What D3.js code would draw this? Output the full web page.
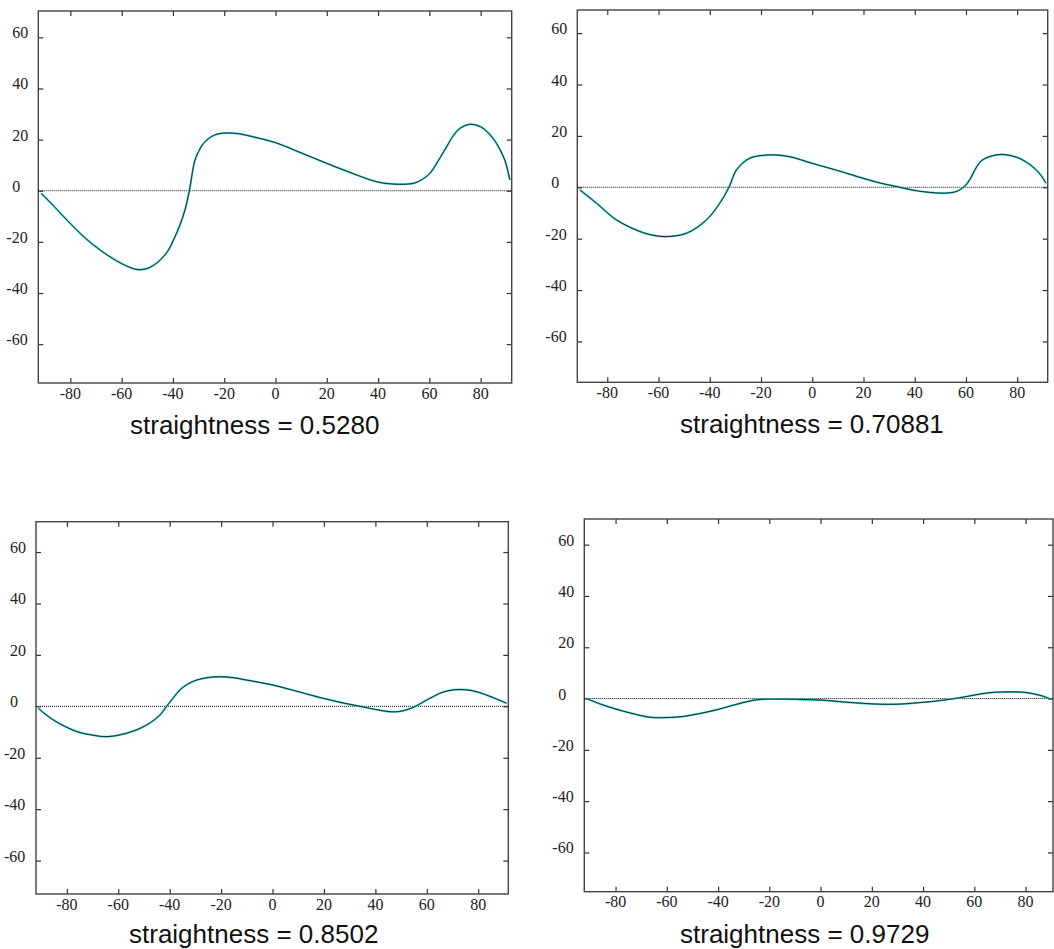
<!DOCTYPE html>
<html><head><meta charset="utf-8">
<script src="https://cdn.jsdelivr.net/npm/d3@7"></script>
<style>body{margin:0;background:#fff}svg{display:block}</style>
</head><body>
<svg id="c" width="1054" height="949"></svg>
<script>
const xTicks = [-80,-60,-40,-20,0,20,40,60,80];
const yTicks = [-60,-40,-20,0,20,40,60];
const captions = ["straightness = 0.5280","straightness = 0.70881","straightness = 0.8502","straightness = 0.9729"];

const x1 = [-91.4,-86,-81.3,-75,-68.4,-60,-54,-50,-47,-45,-42,-39.8,-37.5,-35.3,-33.6,-31.4,-29.5,-28.1,-25,-21.6,-15.1,-8,0,10,20,30,39.5,46,53.8,57,60.2,63.5,66.7,69.5,71.9,75.8,79,81,84,86.2,89.4,91.4];
const y1 = [-1,-6.5,-11.5,-17.8,-23.2,-28.5,-30.8,-30.4,-28.8,-27.1,-23.6,-19.3,-14,-7.5,0,12,16.3,18.5,21.2,22.4,22.4,20.9,18.8,14.8,10.7,6.8,3.5,2.6,2.9,4.3,6.8,11.8,17.2,21.8,24.4,26,25.4,24.4,21.5,18.5,12,4.2];

const x2 = [-90.7,-84.2,-76.4,-67.3,-62,-56.9,-49.1,-41.3,-36.1,-32.5,-29.6,-24.4,-16.6,-8.8,0,10,19.8,26,32.7,40.5,46,50.9,56.1,59.4,61.5,63.9,66,69.1,74.3,80.8,86,89,91.2];
const y2 = [-1,-6.2,-12.7,-17.2,-18.7,-19.2,-17.9,-12.7,-6.2,0,6.7,11.3,12.6,11.9,9.3,6.5,3.5,1.8,0.3,-1.3,-2,-2.3,-1.7,0.3,3.0,7.5,10.3,11.9,12.8,11.3,8,5,1.6];

const x3 = [-91.1,-85.3,-76.2,-70,-64.6,-56.8,-49,-43.8,-41.2,-38.5,-36,-33,-29.6,-25,-20.5,-15,-10.1,0,10,19.7,27,34,40,45.6,50,54.7,58.5,62.5,66,70.3,75.5,80,83.2,87,91];
const y3 = [-0.8,-5.3,-9.8,-11.2,-11.8,-10.5,-7.3,-3.4,0,3.4,6.4,8.6,10.2,11.2,11.5,11.1,10.2,8.3,5.7,3.1,1.4,0,-1.2,-2.1,-1.9,-0.4,1.6,3.8,5.4,6.4,6.4,5.5,4.4,2.9,1.2];

const x4 = [-91.3,-86,-80.9,-74,-66.6,-60,-53.6,-47,-40.6,-33,-25.1,-18,-9.5,0,10,23,30,36,44,50.3,58.1,63,68.4,73.5,78.8,83,86.5,89.2];
const y4 = [0,-2.1,-3.8,-5.7,-7.3,-7.4,-7,-5.8,-4.4,-2.3,-0.5,-0.2,-0.3,-0.6,-1.4,-2.2,-2.2,-1.8,-1.1,-0.3,1,1.9,2.5,2.6,2.5,1.9,1,0];

const panels = [
  {xs:x1, ys:y1, cap:captions[0], left:38.3, top:11, right:511.7, bottom:383, xd:[-92.5,92.1], yd:[-75.2,70.3], capX:130, capY:434},
  {xs:x2, ys:y2, cap:captions[1], left:577.3, top:10, right:1047.7, bottom:382.3, xd:[-91.7,91.9], yd:[-75.9,69], capX:680, capY:433},
  {xs:x3, ys:y3, cap:captions[2], left:36, top:521.7, right:508.3, bottom:894, xd:[-92,91.7], yd:[-73,71.8], capX:129, capY:943},
  {xs:x4, ys:y4, cap:captions[3], left:584.3, top:519, right:1053, bottom:891.7, xd:[-92.2,90.7], yd:[-75.3,70], capX:680, capY:943}
];

const svg = d3.select("#c");
const tickFont = "'Liberation Serif','Times New Roman',serif";

panels.forEach(p => {
  const x = d3.scaleLinear().domain(p.xd).range([p.left, p.right]);
  const y = d3.scaleLinear().domain(p.yd).range([p.bottom, p.top]);
  const g = svg.append("g");
  const w = p.right - p.left, h = p.bottom - p.top;

  const fmt = () => "";
  g.append("g").attr("transform", `translate(0,${p.bottom})`)
    .call(d3.axisBottom(x).tickValues(xTicks).tickSize(-5).tickFormat(fmt));
  g.append("g").attr("transform", `translate(0,${p.top})`)
    .call(d3.axisTop(x).tickValues(xTicks).tickSize(-5).tickFormat(fmt));
  g.append("g").attr("transform", `translate(${p.left},0)`)
    .call(d3.axisLeft(y).tickValues(yTicks).tickSize(-5).tickFormat(fmt));
  g.append("g").attr("transform", `translate(${p.right},0)`)
    .call(d3.axisRight(y).tickValues(yTicks).tickSize(-5).tickFormat(fmt));
  g.selectAll(".domain").remove();
  g.selectAll(".tick line").attr("stroke", "#333").attr("stroke-width", 1.2);

  g.append("rect").attr("x", p.left).attr("y", p.top).attr("width", w).attr("height", h)
    .attr("fill", "none").attr("stroke", "#444").attr("stroke-width", 1.4);

  g.selectAll("text.xl").data(xTicks).join("text").attr("class","xl")
    .attr("x", d => x(d)).attr("y", p.bottom + 15.5)
    .attr("text-anchor", "middle").attr("font-family", tickFont).attr("font-size", 16)
    .attr("fill", "#222").text(d => d);
  g.selectAll("text.yl").data(yTicks).join("text").attr("class","yl")
    .attr("x", d => p.left - (d < 0 ? 32 : 26)).attr("y", d => y(d) + 1)
    .attr("text-anchor", "start").attr("font-family", tickFont).attr("font-size", 16)
    .attr("fill", "#222").text(d => d);

  g.append("line").attr("x1", p.left).attr("x2", p.right).attr("y1", y(0)).attr("y2", y(0))
    .attr("stroke", "#111").attr("stroke-width", 1).attr("stroke-dasharray", "1,1");

  const pts = p.xs.map((v, i) => [v, p.ys[i]]);
  const line = d3.line().x(d => x(d[0])).y(d => y(d[1])).curve(d3.curveCatmullRom.alpha(0.5));
  g.append("path").attr("d", line(pts)).attr("fill", "none")
    .attr("stroke", "#33d1d1").attr("stroke-width", 2);
  g.append("path").attr("d", line(pts)).attr("fill", "none")
    .attr("stroke", "#111").attr("stroke-width", 1).attr("stroke-opacity", 0.85);

  svg.append("text").attr("x", p.capX).attr("y", p.capY)
    .attr("font-family", "'Liberation Sans',Arial,sans-serif").attr("font-size", 26)
    .attr("fill", "#111").text(p.cap);
});
</script>
</body></html>
